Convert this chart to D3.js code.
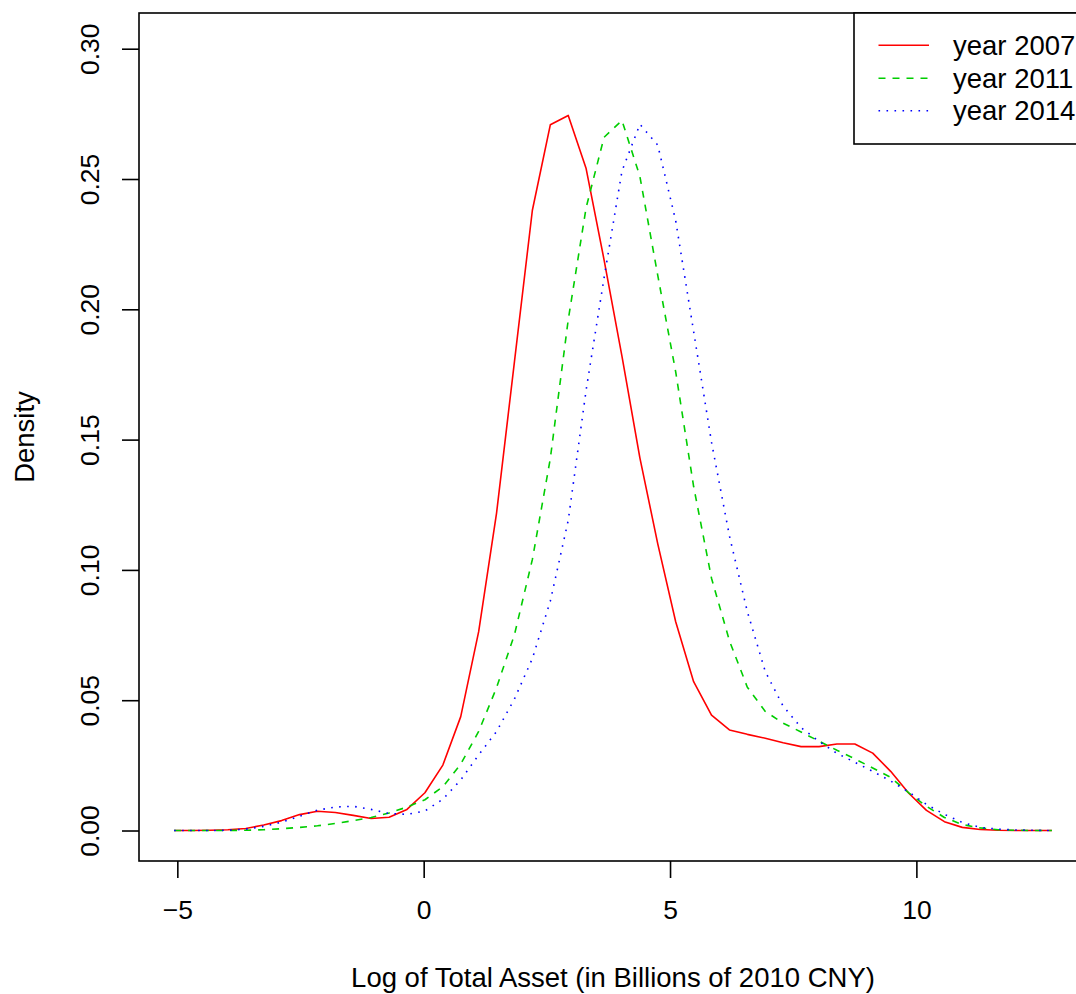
<!DOCTYPE html>
<html>
<head>
<meta charset="utf-8">
<script src="https://cdn.jsdelivr.net/npm/d3@7"></script>
<style>
  html, body { margin: 0; padding: 0; background: #fff; }
  svg { display: block; }
  text { font-family: "Liberation Sans", Arial, Helvetica, sans-serif; fill: #000; }
</style>
</head>
<body>
<svg id="chart" width="1076" height="994"></svg>
<script>
// ---- data ----
const xGrid = [
  -5.065, -4.701, -4.338, -3.974, -3.611, -3.247, -2.884, -2.520, -2.156, -1.793,
  -1.429, -1.066, -0.702, -0.339, 0.025, 0.389, 0.752, 1.116, 1.479, 1.843,
  2.206, 2.570, 2.934, 3.297, 3.661, 4.024, 4.388, 4.751, 5.115, 5.479,
  5.842, 6.206, 6.569, 6.933, 7.296, 7.660, 8.024, 8.387, 8.751, 9.114,
  9.478, 9.841, 10.205, 10.569, 10.932, 11.296, 11.659, 12.023, 12.386, 12.750
];
const dens2007 = [
  0, 0, 0.0001, 0.0003, 0.0008, 0.0021, 0.0038, 0.0061, 0.0074, 0.0069,
  0.0058, 0.0046, 0.0051, 0.0081, 0.0145, 0.0251, 0.0437, 0.0763, 0.1218, 0.180,
  0.238, 0.2708, 0.2744, 0.254, 0.219, 0.182, 0.143, 0.110, 0.0801, 0.0571,
  0.0443, 0.0386, 0.0369, 0.0354, 0.0337, 0.0322, 0.0322, 0.0332, 0.0332, 0.0297,
  0.0227, 0.0144, 0.0077, 0.0034, 0.0012, 0.0004, 0.0001, 0, 0, 0
];
const dens2011 = [
  0, 0, 0, 0, 0.0001, 0.0003, 0.0007, 0.0012, 0.0018, 0.0027,
  0.0038, 0.0050, 0.0067, 0.0090, 0.0118, 0.0168, 0.0255, 0.038, 0.0548, 0.0752,
  0.104, 0.1427, 0.196, 0.239, 0.266, 0.2725, 0.251, 0.213, 0.176, 0.132,
  0.0968, 0.0728, 0.055, 0.0457, 0.0412, 0.0378, 0.0343, 0.0308, 0.0275, 0.024,
  0.0204, 0.0145, 0.0093, 0.005, 0.0023, 0.001, 0.0003, 0.0001, 0, 0
];
const dens2014 = [
  0, 0, 0, 0.0001, 0.0005, 0.0016, 0.0032, 0.0055, 0.0078, 0.009,
  0.0093, 0.0081, 0.0065, 0.0062, 0.0075, 0.012, 0.0194, 0.029, 0.038, 0.0505,
  0.066, 0.088, 0.119, 0.169, 0.212, 0.253, 0.271, 0.263, 0.234, 0.1915,
  0.149, 0.113, 0.084, 0.061, 0.0477, 0.0395, 0.0342, 0.0296, 0.0262, 0.0227,
  0.019, 0.0148, 0.0100, 0.0062, 0.0031, 0.0012, 0.0005, 0.0002, 0.0001, 0
];
const seriesNames = ["year 2007", "year 2011", "year 2014"];
const xTicks = [-5, 0, 5, 10];
const yTicks = [0, 0.05, 0.10, 0.15, 0.20, 0.25, 0.30];
const yTickLabels = ["0.00", "0.05", "0.10", "0.15", "0.20", "0.25", "0.30"];
const xTitle = "Log of Total Asset (in Billions of 2010 CNY)";
const yTitle = "Density";

// ---- layout ----
const svg = d3.select("#chart");
const box = { left: 139, top: 13, right: 1087, bottom: 861 };
const FS = 26.5;     // tick labels
const FT = 27.5;     // titles and legend

const x = d3.scaleLinear().domain([-5.778, 13.463]).range([box.left, box.right]);
const y = d3.scaleLinear().domain([-0.0117, 0.3137]).range([box.bottom, box.top]);

const styles = [
  { color: "#FF0000", dash: null },
  { color: "#00CD00", dash: "7,7" },
  { color: "#0000FF", dash: "1.6,6.4" }
];
const allSeries = [dens2007, dens2011, dens2014];

// clip
svg.append("defs").append("clipPath").attr("id", "plotclip")
  .append("rect").attr("x", box.left).attr("y", box.top)
  .attr("width", box.right - box.left).attr("height", box.bottom - box.top);

const line = d3.line().x((d, i) => x(xGrid[i])).y(d => y(d));

const gLines = svg.append("g").attr("clip-path", "url(#plotclip)");
allSeries.forEach((s, k) => {
  gLines.append("path")
    .attr("d", line(s))
    .attr("fill", "none")
    .attr("stroke", styles[k].color)
    .attr("stroke-width", 1.6)
    .attr("stroke-dasharray", styles[k].dash)
    .attr("stroke-linejoin", "round");
});

// box
svg.append("rect")
  .attr("x", box.left).attr("y", box.top)
  .attr("width", box.right - box.left).attr("height", box.bottom - box.top)
  .attr("fill", "none").attr("stroke", "#000").attr("stroke-width", 1.6);

// x axis
const xAxis = d3.axisBottom(x).tickValues(xTicks).tickSize(17).tickPadding(22)
  .tickFormat(d => d < 0 ? "\u2212" + Math.abs(d) : String(d));
const gx = svg.append("g").attr("transform", `translate(0,${box.bottom})`).call(xAxis);
gx.select(".domain").remove();
gx.selectAll(".tick line").attr("stroke", "#000").attr("stroke-width", 1.6);
gx.selectAll(".tick text").attr("font-size", FS).attr("fill", "#000")
  .attr("font-family", "'Liberation Sans', Arial, Helvetica, sans-serif");

// y axis
const yAxis = d3.axisLeft(y).tickValues(yTicks).tickSize(17)
  .tickFormat((d, i) => yTickLabels[i]);
const gy = svg.append("g").attr("transform", `translate(${box.left},0)`).call(yAxis);
gy.select(".domain").remove();
gy.selectAll(".tick line").attr("stroke", "#000").attr("stroke-width", 1.6);
gy.selectAll(".tick text")
  .attr("font-size", FS).attr("fill", "#000")
  .attr("font-family", "'Liberation Sans', Arial, Helvetica, sans-serif")
  .attr("x", null).attr("dy", null)
  .attr("text-anchor", "middle")
  .attr("transform", "translate(-40,0) rotate(-90)");

// titles
svg.append("text")
  .attr("x", (box.left + box.right) / 2).attr("y", 987)
  .attr("text-anchor", "middle").attr("font-size", FT)
  .text(xTitle);
svg.append("text")
  .attr("transform", `translate(34,${(box.top + box.bottom) / 2}) rotate(-90)`)
  .attr("text-anchor", "middle").attr("font-size", FT)
  .text(yTitle);

// legend
const leg = { left: 854, top: 13, bottom: 144 };
svg.append("rect")
  .attr("x", leg.left).attr("y", leg.top)
  .attr("width", 1100 - leg.left).attr("height", leg.bottom - leg.top)
  .attr("fill", "#fff").attr("stroke", "#000").attr("stroke-width", 1.6);
const rowY = [45.3, 78.3, 110.7];
seriesNames.forEach((name, k) => {
  svg.append("line")
    .attr("x1", 878.5).attr("x2", 929)
    .attr("y1", rowY[k]).attr("y2", rowY[k])
    .attr("stroke", styles[k].color).attr("stroke-width", 1.6)
    .attr("stroke-dasharray", styles[k].dash);
  svg.append("text")
    .attr("x", 953).attr("y", rowY[k]).attr("dy", "0.35em")
    .attr("font-size", FT).text(name);
});
</script>
</body>
</html>
